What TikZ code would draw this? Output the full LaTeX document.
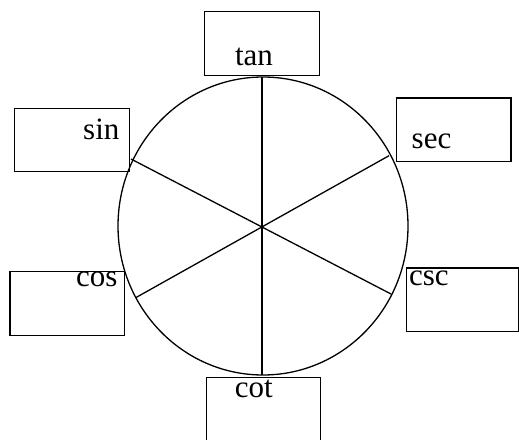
\documentclass[tikz,border=0pt]{standalone}
\usepackage{fontspec}
\setmainfont{Liberation Serif}
\usetikzlibrary{shapes.geometric}
\begin{document}
\begin{tikzpicture}[x=1pt,y=-1pt,line width=1.3pt,
  box/.style={draw,rectangle,inner sep=0pt,anchor=north west},
  lbl/.style={anchor=base,inner sep=0pt,font=\fontsize{31}{31}\selectfont}]
\useasboundingbox (0,0) rectangle (519,439);
% circle
\node[draw,ellipse,inner sep=0pt,minimum width=290pt,minimum height=298pt] (c) at (263,226) {};
% boxes
\node[box,minimum width=115pt,minimum height=64pt] (btan) at (203.5,11) {};
\node[box,minimum width=115pt,minimum height=63.5pt] (bsin) at (13.5,107.5) {};
\node[box,minimum width=114.5pt,minimum height=63.5pt] (bsec) at (395.7,97.3) {};
\node[box,minimum width=114.7pt,minimum height=64.3pt] (bcos) at (9.3,270.7) {};
\node[box,minimum width=112.5pt,minimum height=63.4pt] (bcsc) at (405.7,267.3) {};
\node[box,minimum width=114.3pt,minimum height=66pt] (bcot) at (205.7,376.7) {};
% labels
\node[lbl] (ttan) at (254,65) {tan};
\node[lbl] (tsin) at (101.3,139.3) {sin};
\node[lbl] (tsec) at (431.5,148.3) {sec};
\node[lbl] (tcos) at (96.7,286) {cos};
\node[lbl] (tcsc) at (428.8,285) {csc};
\node[lbl] (tcot) at (253.8,397.3) {cot};
% spokes
\coordinate (o) at (262,227);
\coordinate (ptop) at (262,77);
\coordinate (pbot) at (262,375);
\coordinate (psin) at (131,159);
\coordinate (psec) at (389,155.7);
\coordinate (pcos) at (135.7,297.7);
\coordinate (pcsc) at (391,294);
\draw (ptop) -- (pbot);
\draw (psin) -- (pcsc);
\draw (psec) -- (pcos);
\end{tikzpicture}
\end{document}
